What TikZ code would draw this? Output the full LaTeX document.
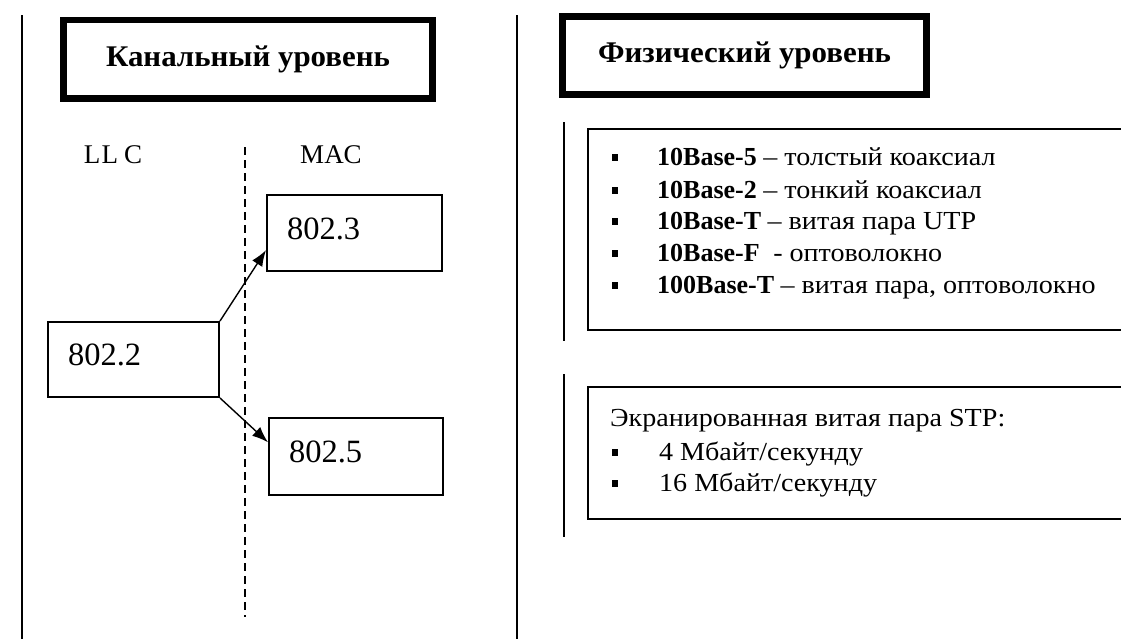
\documentclass[tikz,border=0pt]{standalone}
\usepackage{fontspec}
\setmainfont{Liberation Serif}
\newfontfamily\widefont[FakeStretch=1.08]{Liberation Serif}
\newfontfamily\titlefont[FakeStretch=1.03]{Liberation Serif}
\usetikzlibrary{arrows.meta,calc}
\tikzset{
  vline/.style={line width=1.8pt},
  dline/.style={line width=2pt, dash pattern=on 8pt off 5pt},
  titlebox/.style={draw, line width=6.5pt, inner sep=0pt, font=\fontsize{30}{34}\titlefont\bfseries},
  innerframe/.style={line width=1.4pt},
  stdbox/.style={draw, line width=2pt, inner xsep=20pt, inner ysep=0pt, align=left,
    text height=22pt, text depth=10pt, font=\fontsize{32.5}{36}\selectfont},
  lbl/.style={inner sep=0pt, anchor=base, font=\fontsize{27}{30}\selectfont},
  listbox/.style={line width=1.6pt},
  bul/.style={fill, minimum width=6pt, minimum height=7pt, inner sep=0pt},
  item/.style={anchor=base west, inner sep=0pt, font=\fontsize{26}{30}\selectfont},
  conn/.style={line width=1.6pt},
  arr/.style={line width=1.4pt, -{Latex[length=16pt,width=12pt]}},
}
\begin{document}
\begin{tikzpicture}[x=1pt,y=-1pt]
\useasboundingbox (0,0) rectangle (1121,638);
\clip (0,0) rectangle (1121,638);
\fill[white] (0,0) rectangle (1121,638);

% vertical lines
\coordinate (l1t) at (22,15); \coordinate (l1b) at (22,640);
\coordinate (l2t) at (517,15); \coordinate (l2b) at (517,640);
\draw[vline] (l1t) -- (l1b);
\draw[vline] (l2t) -- (l2b);

% titles
\node[titlebox, minimum width=369.5pt, minimum height=78.5pt] (t1) at (248,59) {Канальный уровень};
\draw[innerframe] ($(t1.north west)+(6,6)$) rectangle ($(t1.south east)+(-6,-6)$);
\node[titlebox, minimum width=364.5pt, minimum height=78.5pt] (t2) at (744.5,55.5) {Физический уровень};
\draw[innerframe] ($(t2.north west)+(6,6)$) rectangle ($(t2.south east)+(-6,-6)$);

% LLC / MAC
\node[lbl] (llc) at (113,163) {L\kern1.5pt L\kern6pt C};
\node[lbl] (mac) at (331,163) {MAC};

% dashed separator
\coordinate (dtop) at (245,147); \coordinate (dbot) at (245,617);
\draw[dline] (dtop) -- (dbot);

% boxes
\node[stdbox, minimum width=175pt, minimum height=76pt, text width=135pt] (n23) at (354.5,233) {802.3};
\node[stdbox, minimum width=171pt, minimum height=75pt, text width=131pt] (n22) at (133.5,359.5) {802.2};
\node[stdbox, minimum width=174pt, minimum height=77pt, text width=134pt] (n25) at (356,456.5) {802.5};

% arrows
\draw[arr] (n22.north east) -- ($(n23.south west)!0.28!(n23.north west)$);
\draw[arr] (n22.south east) -- ($(n25.north west)!0.32!(n25.south west)$);

% brackets
\coordinate (b1t) at (564,122); \coordinate (b1b) at (564,341);
\draw[vline] (b1t) -- (b1b);
\coordinate (b2t) at (564,374); \coordinate (b2b) at (564,537);
\draw[vline] (b2t) -- (b2b);
\draw[conn] ($(n23.east)+(0,-3)$) -- ($(n23.east)+(0,-3)$ -| b1t);
\draw[conn] ($(n25.east)+(0,-3.5)$) -- ($(n25.east)+(0,-3.5)$ -| b2t);

% list box 1
\draw[listbox] (1130,129) -- (588,129) -- (588,330) -- (1130,330);
\node[bul] (bu1) at (615,157) {};
\node[item] (i1) at (657,165) {\textbf{10Base-5} \widefont– толстый коаксиал};
\node[bul] (bu2) at (615,190) {};
\node[item] (i2) at (657,198) {\textbf{10Base-2} \widefont– тонкий коаксиал};
\node[bul] (bu3) at (615,221) {};
\node[item] (i3) at (657,229) {\textbf{10Base-T} \widefont– витая пара UTP};
\node[bul] (bu4) at (615,253) {};
\node[item] (i4) at (657,261) {\textbf{10Base-F} \widefont\ - оптоволокно};
\node[bul] (bu5) at (615,285) {};
\node[item] (i5) at (657,293) {\textbf{100Base-T} \widefont– витая пара, оптоволокно};

% list box 2
\draw[listbox] (1130,387) -- (588,387) -- (588,519) -- (1130,519);
\node[item] (h2) at (610,426) {\widefont Экранированная витая пара STP:};
\node[bul] (bu6) at (615,452) {};
\node[item] (j1) at (659,460) {\widefont 4 Мбайт/секунду};
\node[bul] (bu7) at (615,483) {};
\node[item] (j2) at (659,491) {\widefont 16 Мбайт/секунду};
\end{tikzpicture}
\end{document}
